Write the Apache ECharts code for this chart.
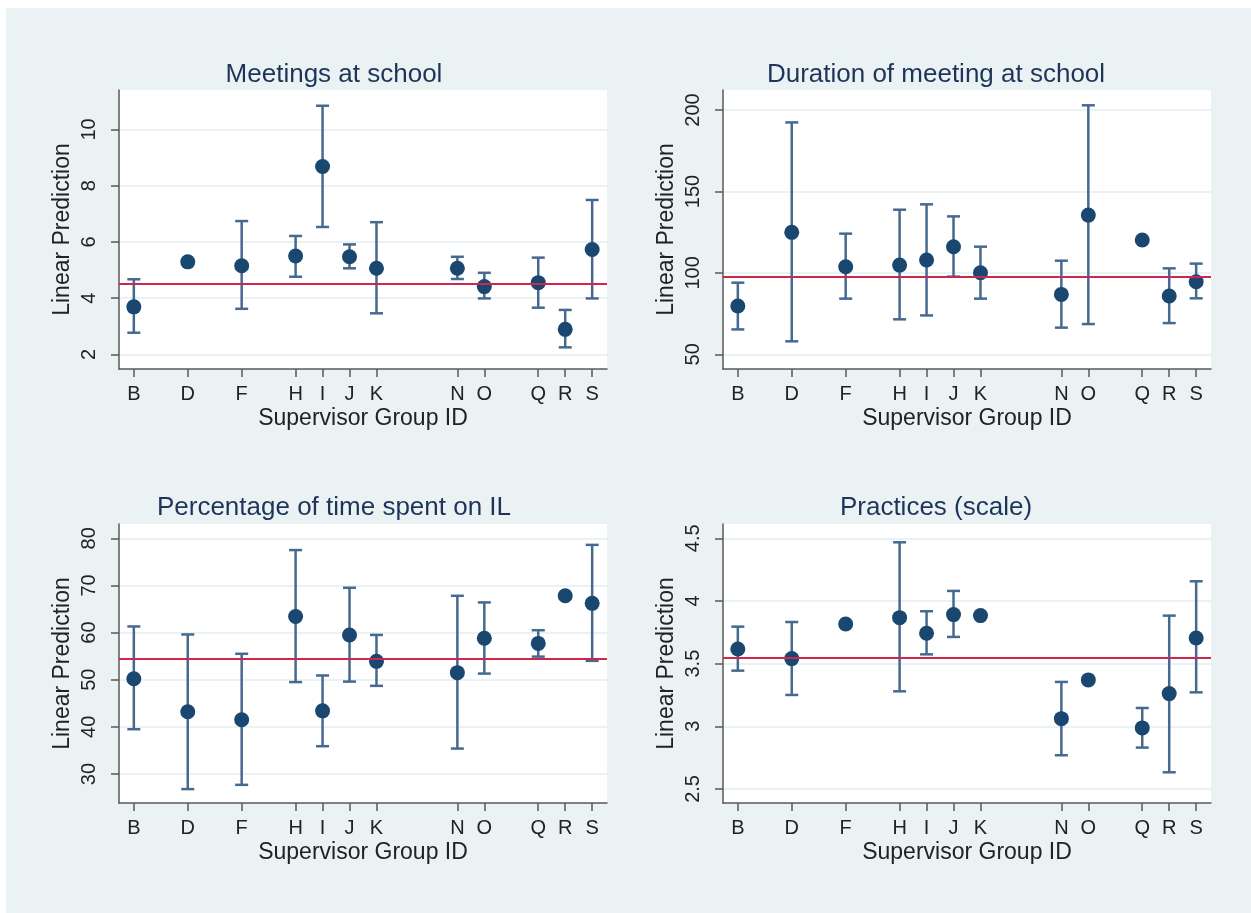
<!DOCTYPE html>
<html>
<head>
<meta charset="utf-8">
<script src="https://cdn.jsdelivr.net/npm/echarts@6/dist/echarts.min.js"></script>
<style>
html,body{margin:0;padding:0;background:#fff;}
#chart{width:1251px;height:913px;}
</style>
</head>
<body>
<div id="chart"></div>
<script>
// ---- data ----
const groups = ['B','D','F','H','I','J','K','N','O','Q','R','S'];

const titles = ['Meetings at school','Duration of meeting at school','Percentage of time spent on IL','Practices (scale)'];
const yAxisTitle = 'Linear Prediction';
const xAxisTitle = 'Supervisor Group ID';

const meetingsMean = [3.69, 5.29, 5.15, 5.50, 8.68, 5.47, 5.06, 5.06, 4.41, 4.55, 2.89, 5.73];
const meetingsLow  = [2.77, 5.24, 3.62, 4.76, 6.53, 5.06, 3.46, 4.68, 3.99, 3.66, 2.25, 3.99];
const meetingsHigh = [4.67, 5.34, 6.74, 6.21, 10.84, 5.91, 6.70, 5.47, 4.90, 5.44, 3.58, 7.49];
const meetingsRef = 4.52;
const meetingsTicks = [2, 4, 6, 8, 10];

const durationMean = [79.7, 124.9, 103.8, 104.8, 107.9, 116.1, 100.1, 86.8, 135.5, 120.2, 85.8, 94.6];
const durationLow  = [65.3, 58.0, 84.2, 71.5, 73.9, 97.7, 84.2, 66.4, 68.6, null, 69.2, 84.4];
const durationHigh = [94.0, 192.4, 124.1, 138.8, 142.1, 134.7, 116.1, 107.5, 202.9, null, 102.8, 105.7];
const durationRef = 97.5;
const durationTicks = [50, 100, 150, 200];

const percentMean = [50.2, 43.2, 41.5, 63.4, 43.4, 59.5, 53.9, 51.5, 58.8, 57.7, 67.8, 66.2];
const percentLow  = [39.5, 26.8, 27.7, 49.5, 35.9, 49.6, 48.7, 35.4, 51.3, 54.9, null, 54.0];
const percentHigh = [61.3, 59.6, 55.5, 77.5, 50.9, 69.5, 59.5, 67.8, 66.4, 60.5, null, 78.6];
const percentRef = 54.5;
const percentTicks = [30, 40, 50, 60, 70, 80];

const practicesMean = [3.617, 3.540, 3.816, 3.867, 3.742, 3.891, 3.883, 3.061, 3.370, 2.987, 3.261, 3.705];
const practicesLow  = [3.444, 3.250, 3.800, 3.279, 3.574, 3.713, null, 2.769, null, 2.830, 2.633, 3.271];
const practicesHigh = [3.795, 3.832, 3.832, 4.468, 3.918, 4.080, null, 3.354, null, 3.146, 3.883, 4.157];
const practicesRef = 3.553;
const practicesTicks = [2.5, 3, 3.5, 4, 4.5];

// ---- layout / style ----
const groupPos = groups.map(g => g.charCodeAt(0) - 64);
const posToLetter = {};
groupPos.forEach((p, i) => { posToLetter[p] = groups[i]; });

const FONT = 'Liberation Sans, Arial, sans-serif';
const BG = '#eaf2f3';
const MARKER = '#1a476f';
const BARCOL = '#46698f';
const REF = '#d0254d';
const AXIS = '#5a5a5a';

const panels = [
  {mean: meetingsMean, low: meetingsLow, high: meetingsHigh, ref: meetingsRef, ticks: meetingsTicks, ymin: 1.48, ymax: 11.4, left: 119, top: 90, tx: 329, ty: 57},
  {mean: durationMean, low: durationLow, high: durationHigh, ref: durationRef, ticks: durationTicks, ymin: 41.0, ymax: 212.3, left: 723, top: 90, tx: 931, ty: 57},
  {mean: percentMean, low: percentLow, high: percentHigh, ref: percentRef, ticks: percentTicks, ymin: 23.85, ymax: 83.03, left: 119, top: 524, tx: 329, ty: 490},
  {mean: practicesMean, low: practicesLow, high: practicesHigh, ref: practicesRef, ticks: practicesTicks, ymin: 2.388, ymax: 4.614, left: 723, top: 524, tx: 931, ty: 490}
];

const option = {
  backgroundColor: '#ffffff',
  animation: false,
  graphic: [{type: 'rect', shape: {x: 6, y: 8, width: 1245, height: 905}, style: {fill: BG}, z: -10, silent: true}],
  title: [], grid: [], xAxis: [], yAxis: [], series: []
};

panels.forEach((p, i) => {
  option.title.push({
    text: titles[i], left: p.tx, top: p.ty, textAlign: 'center',
    textStyle: {fontFamily: FONT, fontSize: 26, fontWeight: 'normal', color: '#1e3559'}
  });
  option.grid.push({
    left: p.left, top: p.top, width: 488, height: 279,
    show: true, backgroundColor: '#ffffff', borderWidth: 0, containLabel: false
  });
  option.xAxis.push({
    type: 'value', gridIndex: i, min: 1.45, max: 19.55,
    name: xAxisTitle, nameLocation: 'middle', nameGap: 38,
    nameTextStyle: {fontFamily: FONT, fontSize: 23, color: '#222'},
    axisLine: {show: true, onZero: false, lineStyle: {color: AXIS, width: 1.5}},
    axisTick: {show: true, length: 8, customValues: groupPos, lineStyle: {color: AXIS, width: 1.5}},
    axisLabel: {customValues: groupPos, margin: 15, fontFamily: FONT, fontSize: 20, color: '#222',
      formatter: v => posToLetter[v] || ''},
    splitLine: {show: false}
  });
  option.yAxis.push({
    type: 'value', gridIndex: i, min: p.ymin, max: p.ymax,
    name: yAxisTitle, nameLocation: 'middle', nameGap: 45,
    nameTextStyle: {fontFamily: FONT, fontSize: 23, color: '#222'},
    axisLine: {show: true, onZero: false, lineStyle: {color: AXIS, width: 1.5}},
    axisTick: {show: true, length: 8, customValues: p.ticks, lineStyle: {color: AXIS, width: 1.5}},
    axisLabel: {customValues: p.ticks, rotate: 90, margin: 20, fontFamily: FONT, fontSize: 20, color: '#222'},
    splitLine: {show: true, lineStyle: {color: BG, width: 2}}
  });
  const barData = [];
  groupPos.forEach((x, k) => {
    if (p.low[k] != null && p.high[k] != null) barData.push([x, p.low[k], p.high[k]]);
  });
  option.series.push({
    type: 'custom', xAxisIndex: i, yAxisIndex: i, z: 2,
    data: barData,
    encode: {x: 0, y: [1, 2]},
    renderItem: (params, api) => {
      const x = api.value(0);
      const a = api.coord([x, api.value(1)]);
      const b = api.coord([x, api.value(2)]);
      const hw = 6.5;
      const st = {stroke: BARCOL, lineWidth: 2.5, fill: null};
      return {type: 'group', children: [
        {type: 'line', shape: {x1: a[0], y1: a[1], x2: b[0], y2: b[1]}, style: st},
        {type: 'line', shape: {x1: a[0] - hw, y1: a[1], x2: a[0] + hw, y2: a[1]}, style: st},
        {type: 'line', shape: {x1: b[0] - hw, y1: b[1], x2: b[0] + hw, y2: b[1]}, style: st}
      ]};
    },
    markLine: {
      silent: true, symbol: 'none', label: {show: false},
      lineStyle: {color: REF, width: 2, type: 'solid'},
      data: [{yAxis: p.ref}]
    }
  });
  option.series.push({
    type: 'scatter', xAxisIndex: i, yAxisIndex: i, z: 3,
    symbol: 'circle', symbolSize: 15,
    itemStyle: {color: MARKER, opacity: 1},
    data: groupPos.map((x, k) => [x, p.mean[k]])
  });
});

const chart = echarts.init(document.getElementById('chart'), null, {renderer: 'canvas'});
chart.setOption(option);
</script>
</body>
</html>
